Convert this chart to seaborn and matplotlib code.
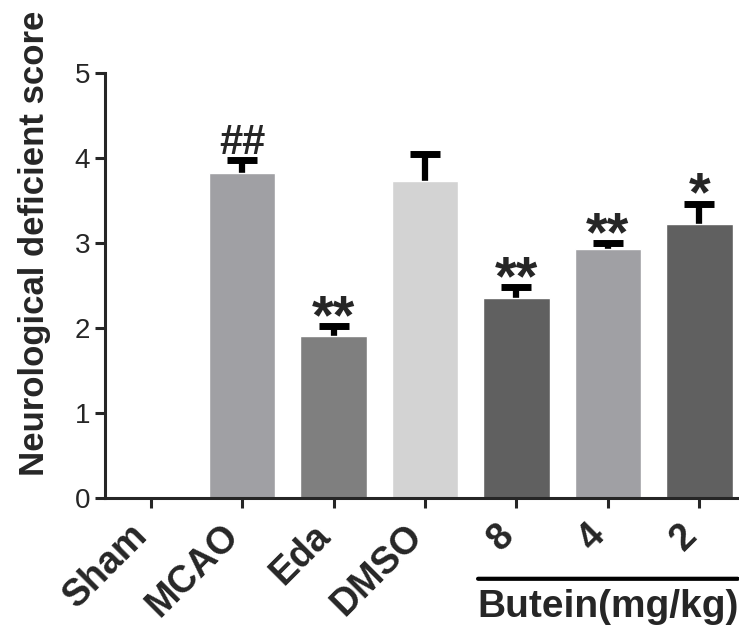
import matplotlib
matplotlib.use('Agg')
import matplotlib.pyplot as plt
import matplotlib.transforms as mtransforms
import seaborn as sns
import pandas as pd

# Datos
grupos = ['Sham', 'MCAO', 'Eda', 'DMSO', '8', '4', '2']
puntaje = [0.0, 3.82, 1.90, 3.73, 2.35, 2.93, 3.22]
error = [0.0, 0.16, 0.12, 0.32, 0.13, 0.07, 0.24]
signos = ['', '##', '**', '', '**', '**', '*']
colores = ['#a0a0a4', '#a0a0a4', '#7f7f7f', '#d3d3d3', '#606060', '#a0a0a4', '#606060']

df = pd.DataFrame({'grupo': grupos, 'puntaje': puntaje})

sns.set_style('ticks')
plt.rcParams['font.family'] = ['Liberation Sans', 'DejaVu Sans']

fig = plt.figure(figsize=(7.39, 6.28), dpi=100)
ax = fig.add_axes([0.142, 0.207, 0.86, 0.677])

sns.barplot(data=df, x='grupo', y='puntaje', hue='grupo', palette=colores,
            legend=False, width=0.73, saturation=1, errorbar=None, ax=ax, zorder=2)

# Barras de error: la mitad inferior queda tapada por la barra
xs = list(range(len(grupos)))
ax.errorbar(xs[1:], puntaje[1:], yerr=error[1:], fmt='none',
            ecolor='black', elinewidth=4.5, capsize=11, capthick=5, zorder=1)

# Marcas de significancia
for x, y, e, s in zip(xs, puntaje, error, signos):
    if not s:
        continue
    if '#' in s:
        ax.annotate(s, (x, y + e), xytext=(0, 4), textcoords='offset points',
                    ha='center', va='baseline', fontsize=30, fontweight='bold')
    else:
        ax.annotate(s, (x, y + e), xytext=(0, -5), textcoords='offset points',
                    ha='center', va='baseline', fontsize=40, fontweight='bold')

ax.set_ylim(0, 5)
ax.set_xlim(-0.5, 6.45)
ax.set_yticks([0, 1, 2, 3, 4, 5])
ax.set_xlabel('')
ax.set_ylabel('Neurological deficient score', fontsize=25, fontweight='bold')
ax.yaxis.set_label_coords(-0.085, 0.6)
ax.tick_params(axis='y', labelsize=20, width=2.2, length=7)
ax.tick_params(axis='x', labelsize=27, width=2.2, length=7, pad=16)
ax.set_xticks(xs)
ax.set_xticklabels(grupos, rotation=45, ha='right', va='center',
                   rotation_mode='anchor', fontweight='bold')

# Correr un poco las etiquetas hacia la izquierda
despl = mtransforms.ScaledTranslation(-6 / 72, 0, fig.dpi_scale_trans)
for etiqueta in ax.get_xticklabels():
    etiqueta.set_transform(etiqueta.get_transform() + despl)

for lado in ['left', 'bottom']:
    ax.spines[lado].set_linewidth(2.2)
sns.despine(ax=ax)

# Línea y etiqueta del grupo Butein
ax.annotate('', xy=(3.55, -0.95), xytext=(6.45, -0.95), xycoords='data',
            annotation_clip=False,
            arrowprops=dict(arrowstyle='-', lw=3, color='black'))
ax.text(5.0, -1.07, 'Butein(mg/kg)', ha='center', va='top', fontsize=28,
        fontweight='bold', clip_on=False)

fig.savefig('out.png', dpi=100)
